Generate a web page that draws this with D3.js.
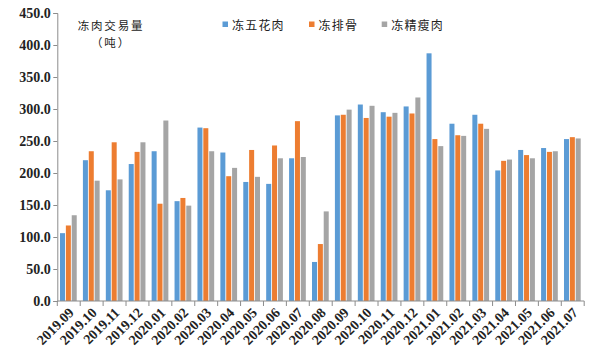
<!DOCTYPE html>
<html><head><meta charset="utf-8">
<script src="https://cdn.jsdelivr.net/npm/d3@7"></script>
<style>
html,body{margin:0;padding:0;background:#fff;}
svg{display:block;}
</style></head>
<body>
<svg id="chart" width="600" height="356"></svg>
<script>
const categories = ["2019.09","2019.10","2019.11","2019.12","2020.01","2020.02","2020.03","2020.04","2020.05","2020.06","2020.07","2020.08","2020.09","2020.10","2020.11","2020.12","2021.01","2021.02","2021.03","2021.04","2021.05","2021.06","2021.07"];
const seriesNames = ["冻五花肉","冻排骨","冻精瘦肉"];
const porkBelly = [106,220,173,214,234,156,271,232,186,183,223,61,290,307,295,304,387,277,291,204,236,239,253];
const ribs = [118,234,248,233,152,161,270,195,236,243,281,89,291,286,288,293,253,259,277,219,228,233,256];
const lean = [134,188,190,248,282,149,234,208,194,223,225,140,299,305,294,318,242,258,269,221,223,234,254];
const colors = ["#5B9BD5","#ED7D31","#A5A5A5"];
const yTicks = [0,50,100,150,200,250,300,350,400,450];
const titleLines = ["冻肉交易量","（吨）"];

const seriesValues = [porkBelly, ribs, lean];
const svg = d3.select("#chart");
const mLeft = 57.3, mRight = 584.2, mTop = 13, mBottom = 301;

const x = d3.scaleBand().domain(categories).range([mLeft, mRight]).padding(0);
const bw = x.bandwidth();
const x1 = d3.scaleBand().domain(seriesNames).range([bw*0.118, bw*0.848]).paddingInner(0.145).paddingOuter(0);
const y = d3.scaleLinear().domain([0,450]).range([mBottom, mTop]);

const axisColor = "#8c8c8c";
const serif = "'Liberation Serif','Times New Roman',serif";
const cjk = "'Noto Sans CJK SC','Noto Sans CJK JP',sans-serif";

// bars
const g = svg.append("g");
seriesNames.forEach((s, si) => {
  g.selectAll(null).data(categories.map((c,i)=>({c, v: seriesValues[si][i]})))
    .enter().append("rect")
    .attr("x", d => x(d.c) + x1(s))
    .attr("y", d => y(d.v))
    .attr("width", x1.bandwidth())
    .attr("height", d => y(0) - y(d.v))
    .attr("fill", colors[si]);
});

// y axis
const yAxis = d3.axisLeft(y).tickValues(yTicks).tickSize(4).tickFormat(d3.format(".1f"));
const ya = svg.append("g").attr("transform", `translate(${mLeft},0)`).call(yAxis);
ya.select(".domain").attr("stroke", axisColor);
ya.selectAll(".tick line").attr("stroke", axisColor);
ya.selectAll(".tick text").attr("font-family", serif).attr("font-weight", "bold")
  .attr("font-size", "14px").attr("fill", "#222").attr("x", -6.5);

// x axis
const xa = svg.append("g").attr("transform", `translate(0,${mBottom})`);
xa.append("line").attr("x1", mLeft).attr("x2", mRight).attr("y1", 0).attr("y2", 0).attr("stroke", axisColor);
const boundaries = categories.map(c => x(c)).concat([x(categories[categories.length-1]) + bw]);
xa.selectAll(".bt").data(boundaries).enter().append("line")
  .attr("x1", d => d).attr("x2", d => d).attr("y1", 0).attr("y2", 5).attr("stroke", axisColor);
xa.selectAll(".lbl").data(categories).enter().append("text")
  .attr("transform", d => `translate(${x(d) + bw/2 + 2.5},${9}) rotate(-45)`)
  .attr("text-anchor", "end").attr("dy", "0.35em")
  .attr("font-family", serif).attr("font-weight", "bold").attr("font-size", "14px").attr("fill", "#222")
  .text(d => d);

// title
svg.selectAll(".ttl").data(titleLines).enter().append("text")
  .attr("x", 111).attr("y", (d,i) => 29.5 + i*17)
  .attr("text-anchor", "middle").attr("font-family", cjk).attr("font-size", "11.5px")
  .attr("letter-spacing", "1.8px").attr("fill", "#222")
  .text(d => d);

// legend
const legendX = [222.5, 309, 381.7];
const lg = svg.append("g");
seriesNames.forEach((s, i) => {
  lg.append("rect").attr("x", legendX[i]).attr("y", 21.5).attr("width", 5.5).attr("height", 5.5).attr("fill", colors[i]);
  lg.append("text").attr("x", legendX[i] + 9.5).attr("y", 29.5)
    .attr("font-family", cjk).attr("font-size", "12px").attr("letter-spacing", "1.2px").attr("fill", "#222").text(s);
});
</script>
</body></html>
